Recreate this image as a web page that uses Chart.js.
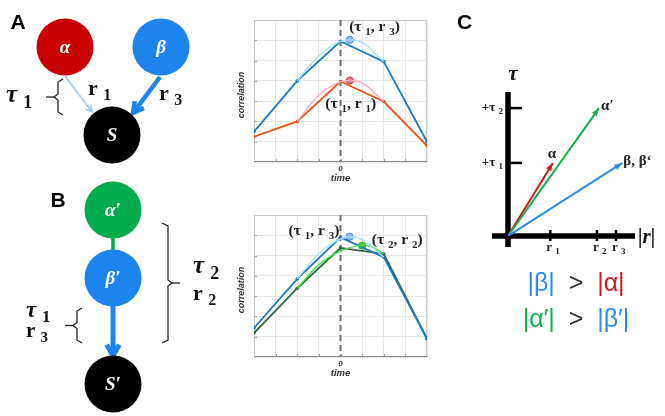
<!DOCTYPE html>
<html>
<head>
<meta charset="utf-8">
<script src="https://cdn.jsdelivr.net/npm/chart.js@4.4.1/dist/chart.umd.min.js"></script>
<style>
  body { margin: 0; background: #fff; width: 665px; height: 416px; overflow: hidden; position: relative; }
  .box { position: absolute; }
</style>
</head>
<body>
<div class="box" style="left:0;top:0;width:235px;height:416px"><canvas id="diagram"></canvas></div>
<div class="box" style="left:230px;top:0;width:210px;height:190px"><canvas id="chartA"></canvas></div>
<div class="box" style="left:230px;top:190px;width:210px;height:190px"><canvas id="chartB"></canvas></div>
<div class="box" style="left:440px;top:0;width:225px;height:416px"><canvas id="chartC"></canvas></div>
<script>
// ---- data ----
var lagTimes = [-4, -2, 0, 2, 4];

// panel A cross-correlations
var corrA_beta = [1.5, 4.0, 5.95, 4.95, 1.0];
var corrA_alpha = [1.25, 2.0, 3.97, 2.98, 0.8];
var fitA_betaT = [-2, -1, 0, 0.45, 1, 2];
var fitA_betaR = [4.0, 5.25, 5.95, 6.03, 5.9, 4.95];
var fitA_alphaT = [-2, -1, 0, 0.45, 1, 2];
var fitA_alphaR = [2.0, 3.3, 3.95, 4.03, 3.9, 2.98];
var peakA_beta = [0.43, 6.02];
var peakA_alpha = [0.43, 4.02];

// panel B cross-correlations
var corrB_beta = [1.43, 3.85, 5.9, 4.92, 0.9];
var corrB_alpha = [1.18, 3.39, 5.38, 5.08, 0.9];
var fitB_betaT = [-2, -1, 0, 0.45, 1, 2];
var fitB_betaR = [3.85, 5.1, 5.82, 5.93, 5.8, 4.92];
var fitB_alphaT = [-2, -1, 0, 1, 1.5, 2];
var fitB_alphaR = [3.39, 4.55, 5.22, 5.49, 5.42, 5.08];
var peakB_beta = [0.42, 5.93];
var peakB_alpha = [1.0, 5.49];

// panel C vectors (|r|, tau)
var rTicks = [1, 2.1, 2.55];
var rTickLabels = ['1', '2', '3'];
var tauTicks = [1, 1.75];
var tauTickLabels = ['1', '2'];
var vecAlpha = [1.06, 1.0];
var vecAlphaP = [2.15, 1.75];
var vecBeta = [2.7, 1.0];

var SERIF = '"Liberation Serif", "DejaVu Serif", serif';
var SANS = '"Liberation Sans", Arial, sans-serif';

function pts(xs, ys) {
  return xs.map(function (x, i) { return { x: x, y: ys[i] }; });
}

// draws text like "(τ 1, r 3)" with subscripts; segs = [[text, isSub], ...]
function drawRich(ctx, x, y, segs, size, align, color, italicMain) {
  var mainFont = (italicMain ? 'italic ' : '') + 'bold ' + size + 'px ' + SERIF;
  var subFont = 'bold ' + Math.round(size * 0.72) + 'px ' + SERIF;
  var total = 0;
  segs.forEach(function (s) {
    ctx.font = s[1] ? subFont : mainFont;
    total += ctx.measureText(s[0]).width;
  });
  var cx = align === 'center' ? x - total / 2 : align === 'right' ? x - total : x;
  ctx.save();
  ctx.fillStyle = color || '#222';
  ctx.textAlign = 'left';
  ctx.textBaseline = 'middle';
  segs.forEach(function (s) {
    ctx.font = s[1] ? subFont : mainFont;
    ctx.fillText(s[0], cx, s[1] ? y + size * 0.3 : y);
    cx += ctx.measureText(s[0]).width;
  });
  ctx.restore();
}

// ---- the two correlation panels ----
function corrPlugin(labels) {
  return {
    id: 'corrDecor',
    beforeDatasetsDraw: function (chart) {
      var ctx = chart.ctx, a = chart.chartArea;
      var xs = chart.scales.x, ys = chart.scales.y;
      ctx.save();
      // inner ticks
      ctx.strokeStyle = '#999';
      ctx.lineWidth = 1;
      for (var v = 1; v < 7; v++) {
        var py = Math.round(ys.getPixelForValue(v)) + 0.5;
        ctx.beginPath(); ctx.moveTo(a.left, py); ctx.lineTo(a.left + 3, py); ctx.stroke();
      }
      for (var u = -3; u < 4; u++) {
        var px = Math.round(xs.getPixelForValue(u)) + 0.5;
        ctx.beginPath(); ctx.moveTo(px, a.bottom); ctx.lineTo(px, a.bottom - 3); ctx.stroke();
      }
      // frame
      ctx.strokeStyle = '#c8c8c8';
      ctx.strokeRect(a.left + 0.5, a.top + 0.5, a.right - a.left - 1, a.bottom - a.top - 1);
      ctx.strokeStyle = '#8a8a8a';
      ctx.beginPath(); ctx.moveTo(a.left, a.bottom - 0.5); ctx.lineTo(a.right, a.bottom - 0.5); ctx.stroke();
      // dashed zero lag
      var x0 = xs.getPixelForValue(0);
      ctx.strokeStyle = '#707070';
      ctx.lineWidth = 2;
      ctx.setLineDash([6, 4]);
      ctx.beginPath(); ctx.moveTo(x0, a.top); ctx.lineTo(x0, a.bottom); ctx.stroke();
      ctx.setLineDash([]);
      ctx.restore();
    },
    afterDraw: function (chart) {
      var ctx = chart.ctx, a = chart.chartArea;
      var xs = chart.scales.x, ys = chart.scales.y;
      var x0 = xs.getPixelForValue(0);
      ctx.save();
      ctx.fillStyle = '#333';
      ctx.textAlign = 'center';
      ctx.textBaseline = 'middle';
      ctx.font = 'italic bold 8px ' + SANS;
      ctx.fillText('0', x0, a.bottom + 7);
      ctx.font = 'italic bold 9.5px ' + SANS;
      ctx.fillText('time', x0, a.bottom + 16);
      ctx.translate(a.left - 12, (a.top + a.bottom) / 2 + 4);
      ctx.rotate(-Math.PI / 2);
      ctx.font = 'italic bold 9px ' + SANS;
      ctx.fillText('correlation', 0, 0);
      ctx.restore();
      labels.forEach(function (l) {
        drawRich(ctx, xs.getPixelForValue(l.at[0]), ys.getPixelForValue(l.at[1]), l.segs, 15.5, l.align, '#222');
      });
    }
  };
}

function corrChart(id, datasets, padTop, padBottom, labels) {
  return new Chart(document.getElementById(id), {
    type: 'line',
    data: { datasets: datasets },
    options: {
      responsive: true,
      maintainAspectRatio: false,
      animation: false,
      events: [],
      layout: { padding: { left: 24, right: 13, top: padTop, bottom: padBottom }, autoPadding: false },
      plugins: { legend: { display: false }, tooltip: { enabled: false } },
      scales: {
        x: { type: 'linear', min: -4, max: 4, ticks: { display: false, stepSize: 1 },
             grid: { color: '#e6e6e6', drawTicks: false }, border: { display: false } },
        y: { min: 0, max: 7, ticks: { display: false, stepSize: 1 },
             grid: { color: '#e6e6e6', drawTicks: false }, border: { display: false } }
      }
    },
    plugins: [corrPlugin(labels)]
  });
}

function fitSet(xs, ys, color) {
  return { data: pts(xs, ys), borderColor: color, borderWidth: 1.4, pointRadius: 0,
           cubicInterpolationMode: 'monotone', fill: false };
}
function mainSet(ys, color) {
  return { data: pts(lagTimes, ys), borderColor: color, backgroundColor: color, borderWidth: 1.8,
           pointRadius: 1.8, pointBorderWidth: 0, tension: 0, fill: false };
}
function peakSet(p, fillC, edgeC) {
  return { data: [{ x: p[0], y: p[1] }], showLine: false, pointRadius: 3.6, pointBorderWidth: 1,
           backgroundColor: fillC, borderColor: edgeC };
}

corrChart('chartA', [
  fitSet(fitA_betaT, fitA_betaR, '#a8e0f4'),
  fitSet(fitA_alphaT, fitA_alphaR, '#f5a9c4'),
  mainSet(corrA_alpha, '#e0541c'),
  mainSet(corrA_beta, '#1a78c8'),
  peakSet(peakA_beta, '#8db8ee', '#5a8fd6'),
  peakSet(peakA_alpha, '#f0707a', '#d84550')
], 20, 28, [
  { at: [0.4, 6.65], align: 'left', segs: [['(τ ', 0], ['1', 1], [', r ', 0], ['3', 1], [')', 0]] },
  { at: [-0.7, 2.85], align: 'left', segs: [['(τ ', 0], ['1', 1], [', r ', 0], ['1', 1], [')', 0]] }
]);

corrChart('chartB', [
  fitSet(fitB_betaT, fitB_betaR, '#a8e0f4'),
  fitSet(fitB_alphaT, fitB_alphaR, '#3ee63e'),
  mainSet(corrB_beta, '#1a78c8'),
  mainSet(corrB_alpha, '#2a6b45'),
  peakSet(peakB_beta, '#8db8ee', '#5a8fd6'),
  peakSet(peakB_alpha, '#52c83a', '#3aa028')
], 25, 23, [
  { at: [-0.05, 6.2], align: 'right', segs: [['(τ ', 0], ['1', 1], [', r ', 0], ['3', 1], [')', 0]] },
  { at: [1.45, 5.75], align: 'left', segs: [['(τ ', 0], ['2', 1], [', r ', 0], ['2', 1], [')', 0]] }
]);

// ---- panel C: lag vs |r| vectors ----
function arrowHead(ctx, x1, y1, x2, y2, len, wid, color) {
  var ang = Math.atan2(y2 - y1, x2 - x1);
  ctx.save();
  ctx.fillStyle = color;
  ctx.translate(x2, y2);
  ctx.rotate(ang);
  ctx.beginPath();
  ctx.moveTo(0, 0);
  ctx.lineTo(-len, -wid / 2);
  ctx.lineTo(-len, wid / 2);
  ctx.closePath();
  ctx.fill();
  ctx.restore();
}

var vectorPlugin = {
  id: 'vectorDecor',
  beforeDatasetsDraw: function (chart) {
    var ctx = chart.ctx, xs = chart.scales.x, ys = chart.scales.y;
    var ox = xs.getPixelForValue(0), oy = ys.getPixelForValue(0);
    ctx.save();
    ctx.strokeStyle = '#000';
    ctx.lineCap = 'butt';
    ctx.lineWidth = 5.5;
    ctx.beginPath(); ctx.moveTo(ox - 16, oy); ctx.lineTo(xs.getPixelForValue(3), oy); ctx.stroke();
    ctx.beginPath(); ctx.moveTo(ox, oy + 11); ctx.lineTo(ox, ys.getPixelForValue(ys.max)); ctx.stroke();
    ctx.lineWidth = 2.5;
    rTicks.forEach(function (r) {
      var px = xs.getPixelForValue(r);
      ctx.beginPath(); ctx.moveTo(px, oy - 6); ctx.lineTo(px, oy + 5); ctx.stroke();
    });
    tauTicks.forEach(function (t) {
      var py = ys.getPixelForValue(t);
      ctx.beginPath(); ctx.moveTo(ox - 2, py); ctx.lineTo(ox + 14, py); ctx.stroke();
    });
    ctx.restore();
  },
  afterDraw: function (chart) {
    var ctx = chart.ctx, xs = chart.scales.x, ys = chart.scales.y;
    var ox = xs.getPixelForValue(0), oy = ys.getPixelForValue(0);
    chart.data.datasets.forEach(function (ds) {
      var p = ds.data[1];
      arrowHead(ctx, ox, oy, xs.getPixelForValue(p.x), ys.getPixelForValue(p.y), 8, 6, ds.borderColor);
    });
    rTicks.forEach(function (r, i) {
      drawRich(ctx, xs.getPixelForValue(r) - 4, oy + 12, [['r ', 0], [rTickLabels[i], 1]], 13, 'left', '#222');
    });
    tauTicks.forEach(function (t, i) {
      drawRich(ctx, ox - 5, ys.getPixelForValue(t), [['+τ ', 0], [tauTickLabels[i], 1]], 13, 'right', '#222');
    });
    drawRich(ctx, ox + 5, ys.getPixelForValue(ys.max) - 17, [['τ', 0]], 21, 'center', '#111', true);
    drawRich(ctx, xs.getPixelForValue(3) + 3, oy + 2, [['|', 0], ['r', 0], ['|', 0]], 21, 'left', '#111', true);
    drawRich(ctx, xs.getPixelForValue(vecAlphaP[0]) + 2, ys.getPixelForValue(vecAlphaP[1]) - 2, [['α′', 0]], 15, 'left', '#222');
    drawRich(ctx, xs.getPixelForValue(vecAlpha[0]) - 1, ys.getPixelForValue(vecAlpha[1]) - 9, [['α', 0]], 15, 'center', '#222');
    drawRich(ctx, xs.getPixelForValue(vecBeta[0]) + 1, ys.getPixelForValue(vecBeta[1]) - 2, [['β, β‘', 0]], 15, 'left', '#222');

    // magnitude comparisons
    var cx = 136, row1 = 284, row2 = 320;
    function sentence(y, parts) {
      ctx.save();
      ctx.font = '25px ' + SANS;
      ctx.textBaseline = 'middle';
      var w = 0;
      parts.forEach(function (p) { w += ctx.measureText(p[0]).width; });
      var x = cx - w / 2;
      parts.forEach(function (p) {
        ctx.fillStyle = p[1];
        ctx.fillText(p[0], x, y);
        x += ctx.measureText(p[0]).width;
      });
      ctx.restore();
    }
    sentence(row1, [['|β|', '#2a8cf0'], ['  >  ', '#333'], ['|α|', '#d01818']]);
    sentence(row2, [['|α′|', '#14b050'], ['  >  ', '#333'], ['|β′|', '#2a8cf0']]);
    ctx.save();
    ctx.fillStyle = '#000';
    ctx.font = 'bold 21px ' + SANS;
    ctx.textBaseline = 'middle';
    ctx.fillText('C', 17, 23);
    ctx.restore();
  }
};

function vecSet(v, color) {
  return { data: [{ x: 0, y: 0 }, { x: v[0], y: v[1] }], borderColor: color, borderWidth: 2,
           showLine: true, pointRadius: 0, tension: 0 };
}

new Chart(document.getElementById('chartC'), {
  type: 'scatter',
  data: { datasets: [vecSet(vecBeta, '#2d8af0'), vecSet(vecAlphaP, '#14b04c'), vecSet(vecAlpha, '#d01a1a')] },
  options: {
    responsive: true,
    maintainAspectRatio: false,
    animation: false,
    events: [],
    layout: { padding: { left: 68, right: 30, top: 92, bottom: 180 }, autoPadding: false },
    plugins: { legend: { display: false }, tooltip: { enabled: false } },
    scales: {
      x: { type: 'linear', min: 0, max: 3, display: false },
      y: { type: 'linear', min: 0, max: 1.97, display: false }
    }
  },
  plugins: [vectorPlugin]
});

// ---- panels A and B: node diagrams ----
var nodes = [
  { label: 'α', color: '#c80000', x: 65, y: 47 },
  { label: 'β', color: '#1d84ee', x: 161, y: 47 },
  { label: 'S', color: '#000000', x: 112, y: 135 },
  { label: 'α′', color: '#00ac4c', x: 113, y: 210 },
  { label: 'β′', color: '#1d84ee', x: 113, y: 278 },
  { label: 'S′', color: '#000000', x: 113, y: 384 }
];
var nodeRadius = 28.5;

function line(ctx, pts2, color, width) {
  ctx.save();
  ctx.strokeStyle = color; ctx.lineWidth = width; ctx.lineJoin = 'miter'; ctx.lineCap = 'butt';
  ctx.beginPath();
  pts2.forEach(function (p, i) { if (i) ctx.lineTo(p[0], p[1]); else ctx.moveTo(p[0], p[1]); });
  ctx.stroke();
  ctx.restore();
}
function chevron(ctx, x1, y1, x2, y2, len, color, width) {
  var ang = Math.atan2(y2 - y1, x2 - x1);
  var a1 = ang + Math.PI - 0.5, a2 = ang + Math.PI + 0.5;
  line(ctx, [[x2 + len * Math.cos(a1), y2 + len * Math.sin(a1)], [x2, y2],
             [x2 + len * Math.cos(a2), y2 + len * Math.sin(a2)]], color, width);
  line(ctx, [[x1, y1], [x2 - Math.cos(ang) * width * 0.4, y2 - Math.sin(ang) * width * 0.4]], color, width);
}
// brace opening toward dir (+1 right-pointing tip, -1 left-pointing tip)
function brace(ctx, x, yTop, yBot, tipDir, arm) {
  var ym = (yTop + yBot) / 2;
  line(ctx, [[x - tipDir * arm, yTop], [x, yTop + 3], [x, ym - 3], [x + tipDir * 4, ym],
             [x, ym + 3], [x, yBot - 3], [x - tipDir * arm, yBot]], '#222', 1.3);
  line(ctx, [[x + tipDir * 4, ym], [x + tipDir * 12, ym]], '#222', 1.3);
}

var diagramPlugin = {
  id: 'diagramDecor',
  beforeDatasetsDraw: function (chart) {
    var ctx = chart.ctx, xs = chart.scales.x, ys = chart.scales.y;
    function P(x, y) { return [xs.getPixelForValue(x), ys.getPixelForValue(y)]; }
    var a = P(65, 76), b = P(92, 112);
    chevron(ctx, a[0], a[1], b[0], b[1], 7, '#9cc6f4', 1.6);
    a = P(160, 77); b = P(133, 113);
    chevron(ctx, a[0], a[1], b[0], b[1], 12, '#1d84ee', 4.5);
    a = P(113, 238); b = P(113, 250);
    line(ctx, [a, b], '#00ac4c', 3.5);
    a = P(113, 306); b = P(113, 356);
    chevron(ctx, a[0], a[1], b[0], b[1], 13, '#1d84ee', 5);
  },
  afterDatasetsDraw: function (chart) {
    var ctx = chart.ctx, xs = chart.scales.x, ys = chart.scales.y;
    ctx.save();
    ctx.fillStyle = '#fff';
    ctx.textAlign = 'center';
    ctx.textBaseline = 'middle';
    ctx.font = 'italic bold 19px ' + SERIF;
    nodes.forEach(function (n) {
      ctx.fillText(n.label, xs.getPixelForValue(n.x), ys.getPixelForValue(n.y) + 1);
    });
    ctx.fillStyle = '#000';
    ctx.font = 'bold 21px ' + SANS;
    ctx.fillText('A', 18, 23);
    ctx.fillText('B', 58, 201);
    ctx.restore();

    brace(ctx, 58, 79, 115, -1, 5);
    brace(ctx, 168, 223, 343, 1, 6);
    brace(ctx, 77, 308, 343, -1, 5);

    drawRich(ctx, 6, 96, [['τ ', 0], ['1', 1]], 25, 'left', '#111', true);
    drawRich(ctx, 88, 89, [['r ', 0], ['1', 1]], 22, 'left', '#111');
    drawRich(ctx, 159, 94, [['r ', 0], ['3', 1]], 22, 'left', '#111');
    drawRich(ctx, 193, 267, [['τ ', 0], ['2', 1]], 25, 'left', '#111', true);
    drawRich(ctx, 193, 294, [['r ', 0], ['2', 1]], 22, 'left', '#111');
    drawRich(ctx, 26, 311, [['τ ', 0], ['1', 1]], 23, 'left', '#111', true);
    drawRich(ctx, 26, 332, [['r ', 0], ['3', 1]], 21, 'left', '#111');
  }
};

new Chart(document.getElementById('diagram'), {
  type: 'bubble',
  data: {
    datasets: [{
      data: nodes.map(function (n) { return { x: n.x, y: n.y, r: nodeRadius }; }),
      backgroundColor: nodes.map(function (n) { return n.color; }),
      borderWidth: 0
    }]
  },
  options: {
    responsive: true,
    maintainAspectRatio: false,
    animation: false,
    events: [],
    layout: { padding: 0, autoPadding: false },
    plugins: { legend: { display: false }, tooltip: { enabled: false } },
    scales: {
      x: { type: 'linear', min: 0, max: 235, display: false },
      y: { type: 'linear', min: 0, max: 416, reverse: true, display: false }
    }
  },
  plugins: [diagramPlugin]
});
</script>
</body>
</html>
